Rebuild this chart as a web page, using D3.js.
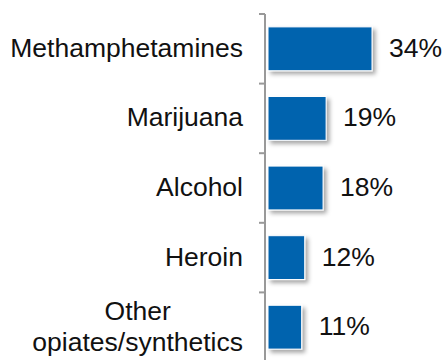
<!DOCTYPE html>
<html>
<head>
<meta charset="utf-8">
<script src="https://cdn.jsdelivr.net/npm/d3@7"></script>
<style>
  body { margin: 0; background: #fff; }
  text { font-family: Arial, "Liberation Sans", sans-serif; fill: #111; }
</style>
</head>
<body>
<svg id="chart" width="444" height="360"></svg>
<script>
// Data
var categories = ["Methamphetamines", "Marijuana", "Alcohol", "Heroin", "Other\nopiates/synthetics"];
var values = [34, 19, 18, 12, 11];
var valueLabels = ["34%", "19%", "18%", "12%", "11%"];

var svg = d3.select("#chart"),
    width = +svg.attr("width"),
    height = +svg.attr("height");

var axisX = 265,
    barX = 268,
    yTop = 14,
    yBottom = 362;

// Scales
var x = d3.scaleLinear()
    .domain([0, 34])
    .range([barX, 372]);

var y = d3.scaleBand()
    .domain(categories)
    .range([yTop, yBottom])
    .paddingInner(0.37)
    .paddingOuter(0.185);

// Drop shadow for bars
var defs = svg.append("defs");
var filter = defs.append("filter")
    .attr("id", "shadow")
    .attr("x", "-10%").attr("y", "-10%")
    .attr("width", "130%").attr("height", "140%");
filter.append("feDropShadow")
    .attr("dx", 3).attr("dy", 3)
    .attr("stdDeviation", 2)
    .attr("flood-color", "#000")
    .attr("flood-opacity", 0.35);

// Bars
svg.append("g")
    .selectAll("rect")
    .data(values)
    .enter()
    .append("rect")
    .attr("x", x(0))
    .attr("y", function (d, i) { return y(categories[i]); })
    .attr("width", function (d) { return x(d) - x(0); })
    .attr("height", y.bandwidth())
    .attr("fill", "#0563ae")
    .attr("stroke", "#fff")
    .attr("stroke-width", 1)
    .attr("filter", "url(#shadow)");

// Axis line with ticks between categories
var ax = svg.append("g").attr("stroke", "#999").attr("stroke-width", 2);
ax.append("line")
    .attr("x1", axisX).attr("x2", axisX)
    .attr("y1", yTop).attr("y2", yBottom);
var step = y.step();
ax.selectAll(".tick")
    .data(d3.range(categories.length + 1))
    .enter()
    .append("line")
    .attr("class", "tick")
    .attr("x1", axisX - 6).attr("x2", axisX)
    .attr("y1", function (i) { return yTop + i * step; })
    .attr("y2", function (i) { return yTop + i * step; });

// Category labels
svg.append("g")
    .selectAll("text")
    .data(categories)
    .enter()
    .append("text")
    .attr("text-anchor", "middle")
    .style("font-size", "26.5px")
    .each(function (d) {
        var lines = d.split("\n");
        var el = d3.select(this);
        var cy = y(d) + y.bandwidth() / 2;
        var lh = 31;
        var widest = 0;
        var spans = [];
        lines.forEach(function (l, k) {
            var t = el.append("tspan")
                .text(l)
                .attr("y", cy + 8 + (k - (lines.length - 1) / 2) * lh);
            spans.push(t);
        });
        // right-align the block, centre lines within it
        spans.forEach(function (t) {
            widest = Math.max(widest, t.node().getComputedTextLength());
        });
        spans.forEach(function (t) {
            t.attr("x", 243 - widest / 2);
        });
    });

// Value labels
svg.append("g")
    .selectAll("text")
    .data(values)
    .enter()
    .append("text")
    .attr("x", function (d) { return x(d) + 17; })
    .attr("y", function (d, i) { return y(categories[i]) + y.bandwidth() / 2 + 8; })
    .style("font-size", "26.5px")
    .text(function (d, i) { return valueLabels[i]; });
</script>
</body>
</html>
